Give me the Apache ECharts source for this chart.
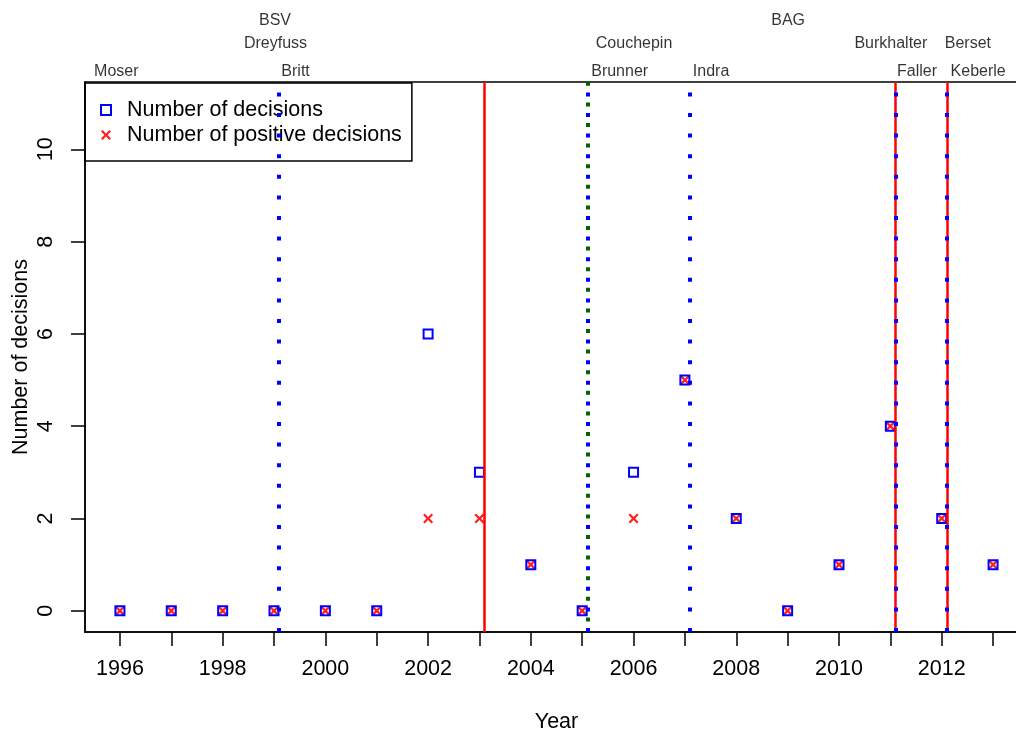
<!DOCTYPE html>
<html>
<head>
<meta charset="utf-8">
<script src="https://cdn.jsdelivr.net/npm/echarts@6/dist/echarts.min.js"></script>
<style>
html,body{margin:0;padding:0;background:#fff;}
#main{width:1016px;height:733px;}
</style>
</head>
<body>
<div id="main"></div>
<script>
// ---- data ----
const years = [1996,1997,1998,1999,2000,2001,2002,2003,2004,2005,2006,2007,2008,2009,2010,2011,2012,2013];
const decisions = [0,0,0,0,0,0,6,3,1,0,3,5,2,0,1,4,2,1];
const positiveDecisions = [0,0,0,0,0,0,2,2,1,0,2,5,2,0,1,4,2,1];
const xTickValues = years;
const xTickLabels = [1996,1998,2000,2002,2004,2006,2008,2010,2012];
const yTickLabels = [0,2,4,6,8,10];
const blueDottedLines = [1999.1, 2005.1, 2007.1, 2011.1, 2012.1];
const redSolidLines = [2003.1, 2011.1, 2012.1];
const greenDottedLines = [2005.1];
// [text, year, margin row]
const annotations = [
  ['Moser', 1995.93, 0], ['Britt', 1999.42, 0], ['Brunner', 2005.73, 0], ['Indra', 2007.51, 0],
  ['Faller', 2011.52, 0], ['Keberle', 2012.71, 0],
  ['Dreyfuss', 1999.03, 1], ['Couchepin', 2006.01, 1], ['Burkhalter', 2011.01, 1], ['Berset', 2012.51, 1],
  ['BSV', 1999.02, 2], ['BAG', 2009.01, 2]
];

// ---- layout / style ----
const X_MIN = 1995.32, X_MAX = 2013.68;
const Y_MIN = -0.46, Y_MAX = 11.46;
const ROW_OFFSETS = [-10.5, -38, -61.5];
const FONT = 'Liberation Sans, Arial, sans-serif';
const CROSS = 'path://M0,1.6L1.6,0L5,3.4L8.4,0L10,1.6L6.6,5L10,8.4L8.4,10L5,6.6L1.6,10L0,8.4L3.4,5Z';

const chart = echarts.init(document.getElementById('main'), null, {renderer: 'canvas'});

function vLines(name, vals, color, width, type, offset, z) {
  return {
    name: name, type: 'scatter', data: [], silent: true, z: z,
    markLine: {
      silent: true, symbol: ['none', 'none'], z: z,
      label: {show: false}, emphasis: {disabled: true},
      animation: false,
      lineStyle: {color: color, width: width, type: type, dashOffset: offset, opacity: 1},
      data: vals.map(v => ({xAxis: v}))
    }
  };
}

const option = {
  animation: false,
  textStyle: {fontFamily: FONT},
  grid: {
    left: 85, right: -12, top: 82, bottom: 101,
    show: true, borderColor: '#000', borderWidth: 1.5,
    containLabel: false, outerBoundsMode: 'none'
  },
  legend: {
    orient: 'vertical', left: 85, top: 83, z: 1,
    padding: [14.5, 10, 13.5, 15],
    itemGap: 0, itemWidth: 10, itemHeight: 10,
    borderColor: '#000', borderWidth: 1.5, backgroundColor: 'transparent',
    selectedMode: false,
    textStyle: {fontSize: 21.5, color: '#000', fontFamily: FONT, lineHeight: 25, padding: [0, 0, 0, 11]},
    data: [
      {name: 'Number of decisions', icon: 'rect',
       itemStyle: {color: 'rgba(0,0,0,0)', borderColor: '#0000ff', borderWidth: 2}},
      {name: 'Number of positive decisions', icon: CROSS,
       itemStyle: {color: '#ff2020', borderWidth: 0}}
    ]
  },
  xAxis: {
    type: 'value', min: X_MIN, max: X_MAX,
    name: 'Year', nameLocation: 'middle', nameGap: 79, nameMoveOverlap: false,
    nameTextStyle: {fontSize: 21.5, color: '#000', fontFamily: FONT},
    axisLine: {show: true, onZero: false, lineStyle: {color: '#000', width: 1.5}},
    axisTick: {show: true, length: 14, customValues: xTickValues, lineStyle: {color: '#000', width: 1.5}},
    axisLabel: {show: true, customValues: xTickLabels, formatter: v => String(Math.round(v)),
      margin: 26, fontSize: 21.5, color: '#000', fontFamily: FONT},
    splitLine: {show: false}
  },
  yAxis: {
    type: 'value', min: Y_MIN, max: Y_MAX,
    name: 'Number of decisions', nameLocation: 'middle', nameGap: 53, nameMoveOverlap: false,
    nameTextStyle: {fontSize: 21.5, color: '#000', fontFamily: FONT},
    axisLine: {show: true, lineStyle: {color: '#000', width: 1.5}},
    axisTick: {show: true, length: 14, customValues: yTickLabels, lineStyle: {color: '#000', width: 1.5}},
    axisLabel: {show: true, customValues: yTickLabels, formatter: v => String(Math.round(v)),
      rotate: 90, margin: 28, fontSize: 21.5, color: '#000', fontFamily: FONT},
    splitLine: {show: false}
  },
  series: [
    {
      name: 'Number of positive decisions', type: 'scatter', z: 2, silent: true,
      symbol: CROSS, symbolSize: 10,
      itemStyle: {color: '#ff2020', opacity: 1},
      data: years.map((y, i) => [y, positiveDecisions[i]])
    },
    {
      name: 'Number of decisions', type: 'scatter', z: 3, silent: true,
      symbol: 'rect', symbolSize: 9,
      itemStyle: {color: 'rgba(0,0,0,0)', borderColor: '#0000ff', borderWidth: 2, opacity: 1},
      data: years.map((y, i) => [y, decisions[i]])
    },
    vLines('red', redSolidLines, '#ff0000', 2.5, 'solid', 0, 5),
    vLines('blue', blueDottedLines, '#0000ff', 4, [4, 16.6], 0, 6),
    vLines('green', greenDottedLines, '#006400', 4, [4, 16.6], 10, 7),
    {
      name: 'annot', type: 'scatter', silent: true, clip: false, z: 8,
      symbolSize: 0,
      data: annotations.map(a => ({
        name: a[0], value: [a[1], Y_MAX],
        label: {offset: [0, ROW_OFFSETS[a[2]]]}
      })),
      label: {
        show: true, position: 'inside', formatter: p => p.name,
        fontSize: 16, color: '#000', fontFamily: FONT
      }
    }
  ]
};
chart.setOption(option);
</script>
</body>
</html>
